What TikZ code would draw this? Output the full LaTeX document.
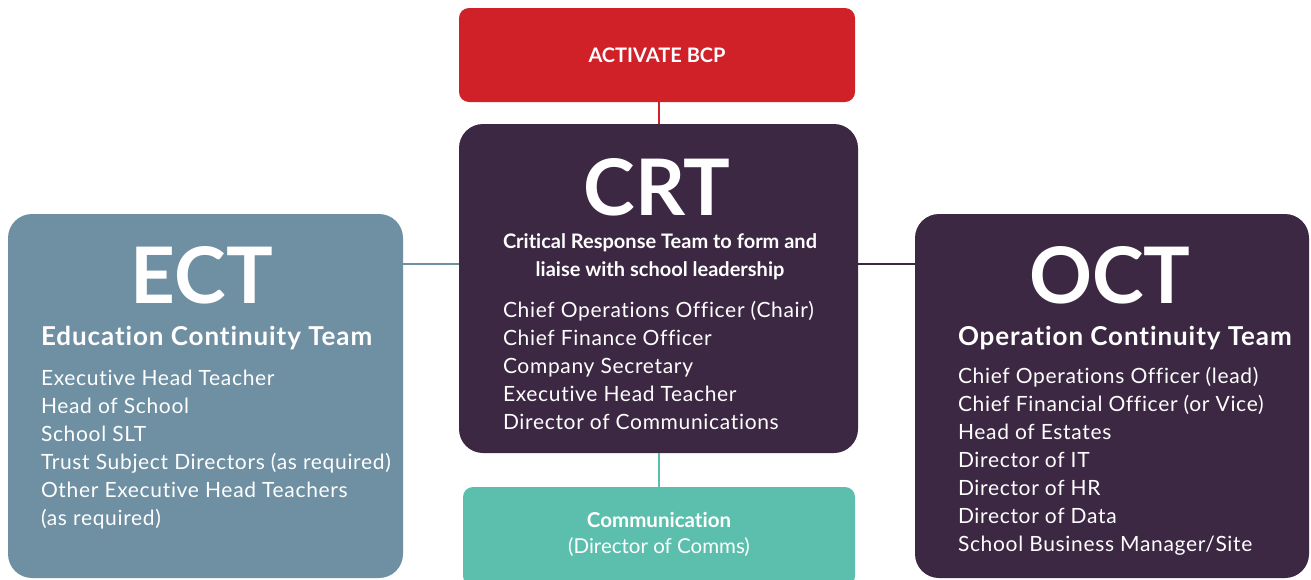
\documentclass[tikz,border=0pt]{standalone}
\usepackage{fontspec}
\setmainfont{Lato}[Ligatures={NoCommon}]
\definecolor{bcpred}{HTML}{D02028}
\definecolor{crtpurple}{HTML}{3D2843}
\definecolor{ectblue}{HTML}{6F90A3}
\definecolor{commteal}{HTML}{5CBFAD}
\tikzset{
  box/.style={inner sep=0pt, outer sep=0pt},
  wtxt/.style={text=white, inner sep=0pt, outer sep=0pt},
  body/.style={wtxt, anchor=base west, align=left, font=\fontsize{21}{28}\selectfont\addfontfeature{LetterSpace=3.2}},
  big/.style={wtxt, anchor=base, font=\fontsize{78}{80}\selectfont\bfseries},
  sub/.style={wtxt, anchor=base west, font=\fontsize{26}{28}\selectfont\bfseries\addfontfeature{LetterSpace=3.5}},
}
\begin{document}
\begin{tikzpicture}[x=1pt,y=-1pt]
\useasboundingbox (0,0) rectangle (1311,579);
% boxes
\path[fill=bcpred, rounded corners=10pt] (459,8) rectangle (855,102);
\node[box, minimum width=396pt, minimum height=94pt] (bcp) at (657,55) {};
\path[fill=crtpurple, rounded corners=24pt] (459,124) rectangle (858,453);
\node[box, minimum width=399pt, minimum height=329pt] (crt) at (658.5,288.5) {};
\path[fill=ectblue, rounded corners=24pt] (8,214) rectangle (403,578);
\node[box, minimum width=395pt, minimum height=364pt] (ect) at (205.5,396) {};
\path[fill=crtpurple, rounded corners=24pt] (915,214) rectangle (1309,578);
\node[box, minimum width=394pt, minimum height=364pt] (oct) at (1112,396) {};
\path[fill=commteal, rounded corners=10pt] (463,487) rectangle (855,586);
\node[box, minimum width=392pt, minimum height=92pt] (comm) at (659,533) {};
% connectors
\draw[bcpred, line width=1.5pt] (bcp.south -| 659,0) -- (crt.north -| 659,0);
\draw[commteal, line width=1.5pt] (crt.south -| 659,0) -- (comm.north -| 659,0);
\draw[ectblue, line width=1.5pt] (ect.east |- 0,264) -- (crt.west |- 0,264);
\draw[crtpurple, line width=1.5pt] (crt.east |- 0,264) -- (oct.west |- 0,264);
% texts
\node[wtxt, font=\fontsize{20}{24}\selectfont\bfseries] (bcpt) at (657,55) {ACTIVATE BCP};
\node[big] (crtt) at (657,215) {CRT};
\node[wtxt, align=center, anchor=base, font=\fontsize{20}{28}\selectfont\bfseries] (crtsub) at (660,276) {Critical Response Team to form and\\liaise with school leadership};
\node[body] (crtl) at (503,429) {Chief Operations Officer (Chair)\\Chief Finance Officer\\Company Secretary\\Executive Head Teacher\\Director of Communications};
\node[big] (ectt) at (202,303) {ECT};
\node[sub] (ects) at (41,345) {Education Continuity Team};
\node[body] (ectl) at (41,525) {Executive Head Teacher\\Head of School\\School SLT\\Trust Subject Directors (as required)\\Other Executive Head Teachers\\(as required)};
\node[big] (octt) at (1110,303) {OCT};
\node[sub] (octs) at (958,345) {Operation Continuity Team};
\node[body] (octl) at (958,551) {Chief Operations Officer (lead)\\Chief Financial Officer (or Vice)\\Head of Estates\\Director of IT\\Director of HR\\Director of Data\\School Business Manager/Site};
\node[wtxt, align=center, anchor=base, font=\fontsize{20.5}{26}\selectfont] (commt) at (659,553) {\bfseries Communication\\(Director of Comms)};
\end{tikzpicture}
\end{document}
